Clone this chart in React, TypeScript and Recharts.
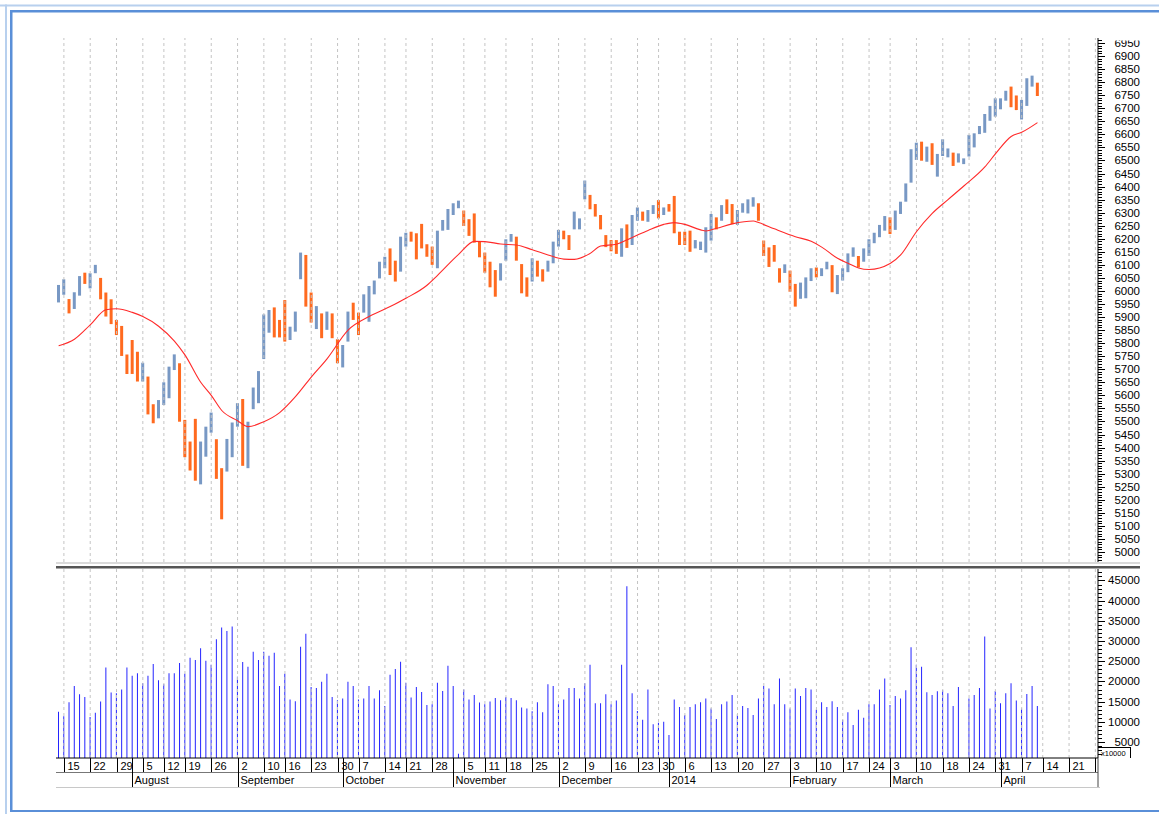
import React from 'react';
import { ComposedChart, Bar, Line, XAxis, YAxis, Cell, ReferenceLine } from 'recharts';

// Trading days shown on the axis (the last eleven are empty future slots)
const monthDays: [string, number[]][] = [
  ['2013-07', [12, 15, 16, 17, 18, 19, 22, 23, 24, 25, 26, 29, 30, 31]],
  ['2013-08', [1, 2, 5, 6, 7, 8, 12, 13, 14, 16, 19, 20, 21, 22, 23, 26, 27, 28, 29, 30]],
  ['2013-09', [2, 3, 4, 5, 6, 10, 11, 12, 13, 16, 17, 18, 19, 20, 23, 24, 25, 26, 27, 30]],
  ['2013-10', [1, 3, 4, 7, 8, 9, 10, 11, 14, 15, 17, 18, 21, 22, 23, 24, 25, 28, 29, 30, 31]],
  ['2013-11', [1, 3, 5, 6, 7, 8, 11, 12, 13, 14, 18, 19, 20, 21, 22, 25, 26, 27, 28, 29]],
  ['2013-12', [2, 3, 4, 5, 6, 9, 10, 11, 12, 13, 16, 17, 18, 19, 20, 23, 24, 26, 27, 30, 31]],
  ['2014-01', [1, 2, 3, 6, 7, 8, 9, 10, 13, 14, 15, 16, 17, 20, 21, 22, 23, 24, 27, 28, 29, 30, 31]],
  ['2014-02', [3, 4, 5, 6, 7, 10, 11, 12, 13, 14, 17, 18, 19, 20, 21, 24, 25, 26, 28]],
  ['2014-03', [3, 4, 5, 6, 7, 10, 11, 12, 13, 14, 18, 19, 20, 21, 22, 24, 25, 26, 27, 28, 31]],
  ['2014-04', [1, 2, 3, 4, 7, 9, 10, 11, 14, 15, 16, 17, 18, 21, 22, 23, 24, 25, 28]],
];

const monthLabels: Record<string, string> = {
  '2013-08': 'August',
  '2013-09': 'September',
  '2013-10': 'October',
  '2013-11': 'November',
  '2013-12': 'December',
  '2014-01': '2014',
  '2014-02': 'February',
  '2014-03': 'March',
  '2014-04': 'April',
};

const highs = [
  6023, 6045, 5969, 5995, 6057, 6070, 6068, 6100, 6050, 5994,
  5968, 5889, 5866, 5757, 5812, 5767, 5725, 5672, 5566, 5582,
  5650, 5710, 5757, 5723, 5506, 5423, 5510, 5423, 5480, 5534,
  5432, 5321, 5433, 5496, 5570, 5586, 5499, 5630, 5693, 5910,
  5927, 5937, 5889, 5965, 5863, 5921, 6147, 6138, 5994, 5942,
  5914, 5921, 5914, 5815, 5793, 5921, 5955, 5917, 5987, 6019,
  6040, 6112, 6131, 6163, 6116, 6208, 6223, 6227, 6221, 6257,
  6179, 6170, 6231, 6272, 6314, 6336, 6346, 6308, 6275, 6297,
  6189, 6147, 6112, 6080, 6106, 6198, 6218, 6208, 6103, 6052,
  6125, 6116, 6083, 6116, 6189, 6234, 6231, 6214, 6304, 6278,
  6423, 6368, 6333, 6291, 6214, 6195, 6195, 6240, 6255, 6291,
  6320, 6304, 6310, 6329, 6348, 6320, 6333, 6364, 6227, 6227,
  6231, 6195, 6189, 6244, 6295, 6282, 6329, 6351, 6333, 6310,
  6336, 6351, 6359, 6336, 6193, 6167, 6176, 6087, 6102, 6078,
  6027, 6032, 6052, 6087, 6090, 6087, 6112, 6099, 6061, 6087,
  6144, 6167, 6134, 6163, 6198, 6223, 6253, 6287, 6282, 6308,
  6342, 6412, 6543, 6568, 6572, 6553, 6566, 6525, 6581, 6546,
  6530, 6527, 6508, 6598, 6604, 6632, 6678, 6709, 6738, 6738,
  6767, 6783, 6749, 6732, 6815, 6825, 6798,
];

const lows = [
  5956, 5985, 5914, 5931, 5982, 6027, 6010, 6068, 5968, 5902,
  5873, 5831, 5751, 5682, 5682, 5653, 5653, 5527, 5493, 5512,
  5563, 5589, 5697, 5499, 5363, 5312, 5273, 5259, 5365, 5457,
  5280, 5125, 5308, 5363, 5480, 5330, 5321, 5547, 5570, 5739,
  5840, 5822, 5822, 5806, 5812, 5844, 6045, 5940, 5879, 5854,
  5819, 5851, 5819, 5723, 5707, 5806, 5889, 5831, 5917, 5882,
  5987, 6048, 6087, 6061, 6036, 6074, 6170, 6189, 6121, 6163,
  6131, 6100, 6087, 6231, 6234, 6291, 6317, 6249, 6211, 6185,
  6129, 6070, 6014, 5978, 6040, 6116, 6189, 6116, 5991, 5978,
  6036, 6055, 6036, 6074, 6106, 6170, 6198, 6157, 6236, 6236,
  6351, 6313, 6285, 6236, 6168, 6152, 6142, 6131, 6165, 6176,
  6269, 6269, 6265, 6295, 6278, 6291, 6304, 6221, 6176, 6176,
  6150, 6163, 6157, 6147, 6193, 6236, 6269, 6295, 6256, 6253,
  6300, 6297, 6323, 6269, 6134, 6092, 6112, 6032, 6069, 5997,
  5940, 5970, 5972, 6038, 6052, 6057, 6083, 5995, 5988, 6040,
  6072, 6131, 6090, 6112, 6134, 6183, 6206, 6231, 6218, 6234,
  6295, 6342, 6415, 6502, 6499, 6495, 6483, 6438, 6517, 6512,
  6479, 6492, 6486, 6515, 6550, 6601, 6606, 6652, 6668, 6696,
  6729, 6704, 6693, 6657, 6709, 6783, 6747,
];

// U = rising bar (blue), D = falling bar (orange)
const barDirection = [
  'UUDUUDUUDD', 'DDDDDDUDDU', 'UUUDDDDUUU', 'DDUUUDUUUU', 'UDDDUUUDDU',
  'DUDDUUDDUU', 'UUUDDUUDDD', 'DDUUUUUDDD', 'DDDDUUUDDD', 'UDDUUUDDUU',
  'UDDDDDDUDU', 'UDUUDUDDDD', 'DUUUUDUDDU', 'UUUDDDDDUD', 'DUUUDUUDUU',
  'UUDUUUUUDU', 'UUUUDUDUUU', 'DUUUUUUUUU', 'UDDUUUD',
].join('').split('');

// volume in units of 10000 shares; null where no volume is drawn
const volumes: (number | null)[] = [
  12520, 11360, 14840, 18900, 16830, 16160, 11190, 12270, 15010, 23470,
  17250, 17080, 17990, 23470, 21400, 22060, 19580, 21400, 24300, 20320,
  19330, 22060, 22060, 24550, 21890, 25870, 25290, 28190, 25120, 24130,
  30430, 33330, 32500, 33580, 21150, 24790, 23630, 27360, 25290, 27360,
  26370, 27110, 18900, 21890, 15500, 15090, 28610, 31840, 18650, 18400,
  19900, 21890, 16160, 15340, 15750, 19900, 18900, 15500, 15750, 18900,
  15750, 17830, 13930, 21650, 23060, 24880, 19660, 16000, 18650, 17410,
  14180, 14350, 19660, 17660, 23880, 18900, 2100, 17990, 15500, 16660,
  14760, 14350, 15010, 15920, 15340, 16160, 15920, 15340, 13520, 13270,
  12600, 14840, 12350, 19330, 18900, 14350, 15500, 18400, 18400, 15750,
  19580, 24130, 14600, 14600, 16830, 14350, 15260, 24130, 43590, 17080,
  12690, 10530, 17990, 9370, 9780, 10030, 6720, 15500, 13680, 11690,
  13680, 14350, 14840, 15750, 13270, 10700, 14350, 15010, 16660, 11860,
  13930, 13430, 11690, 15750, 18900, 18240, 14350, 20730, 14350, 13270,
  18240, 16410, 18400, 17990, 13020, 14840, 13680, 15090, 13680, 10530,
  12350, 9200, 13020, 11030, 14350, 14350, 17990, 20730, 14180, 16410,
  15750, 17830, 28440, 24130, 23630, 17330, 16660, 17580, 17830, 17080,
  13930, 18650, null, 15750, 16660, 18400, 31100, 13270, 17660, 14600,
  17080, 19580, 15260, 13270, 16910, 18900, 13930,
];

// moving average read at these bar positions
const maAt = [
  0, 3, 6, 9, 11, 14, 16, 19, 22, 24, 27, 29, 31, 34, 36, 39, 42, 45, 48, 51,
  55, 59, 63, 66, 70, 72, 76, 79, 81, 84, 87, 90, 93, 96, 98, 101, 103, 106, 109, 112,
  115, 117, 119, 122, 123, 125, 128, 132, 133, 136, 140, 143, 145, 148, 150, 152, 154, 158, 160, 163,
  166, 169, 172, 176, 178, 181, 183, 186,
];
const maValues = [
  5790, 5815, 5870, 5928, 5932, 5918, 5902, 5865, 5808, 5755, 5650, 5600, 5542, 5503, 5480, 5499, 5534, 5595, 5670, 5740,
  5850, 5902, 5940, 5972, 6022, 6060, 6140, 6190, 6189, 6180, 6176, 6158, 6138, 6122, 6121, 6144, 6172, 6179, 6205, 6232,
  6255, 6262, 6255, 6234, 6230, 6240, 6257, 6268, 6262, 6238, 6208, 6190, 6168, 6125, 6106, 6088, 6082, 6105, 6138, 6227,
  6297, 6350, 6402, 6475, 6525, 6592, 6608, 6645,
];

const priceTicks = Array.from({ length: 200 }, (_, k) => 4970 + k * 10);
const volumeTicks = Array.from({ length: 46 }, (_, k) => 2000 + k * 1000);

const tradingDays: string[] = monthDays.flatMap(([m, ds]) =>
  ds.map((d) => `${m}-${String(d).padStart(2, '0')}`)
);

const mondayOf = (s: string) => {
  const [y, m, d] = s.split('-').map(Number);
  const t = Date.UTC(y, m - 1, d) / 86400000;
  const dow = (new Date(Date.UTC(y, m - 1, d)).getUTCDay() + 6) % 7;
  return t - dow;
};

const weekStarts = tradingDays.filter((d, i) => i > 0 && mondayOf(d) !== mondayOf(tradingDays[i - 1]));
const monthStarts = tradingDays.filter((d, i) => i > 0 && d.slice(0, 7) !== tradingDays[i - 1].slice(0, 7));
const weekSet = new Set(weekStarts);
const monthSet = new Set(monthStarts);

const maMap = new Map(maAt.map((idx, k) => [idx, maValues[k]]));

const rows = tradingDays.map((d, i) => ({
  d,
  range: i < highs.length ? [lows[i], highs[i]] : undefined,
  vol: volumes[i] ?? undefined,
  ma: maMap.get(i),
}));

const FONT = '"Liberation Sans", Arial, sans-serif';
const AXIS_X = 1098;
const LEFT = 56;
const UP = '#7898c4';
const DOWN = '#ff6a1f';

const PriceTick = (props: any) => {
  const v = props.payload.value;
  const y = Math.round(props.y) + 0.5;
  const major = v % 50 === 0;
  return (
    <g>
      <line x1={AXIS_X} x2={major ? AXIS_X + 7 : AXIS_X + 4} y1={y} y2={y} stroke="#000" />
      {major && v >= 5000 && (
        <g clipPath="url(#priceLabelClip)">
          <text x={1140} y={props.y} dy={4} textAnchor="end" fontSize={11.5} fontFamily={FONT} fill="#000">
            {v}
          </text>
        </g>
      )}
    </g>
  );
};

const VolTick = (props: any) => {
  const v = props.payload.value;
  const y = Math.round(props.y) + 0.5;
  const major = v % 5000 === 0;
  return (
    <g>
      <line x1={AXIS_X} x2={major ? AXIS_X + 7 : AXIS_X + 4} y1={y} y2={y} stroke="#000" />
      {major && (
        <text x={1140} y={props.y} dy={4} textAnchor="end" fontSize={11.5} fontFamily={FONT} fill="#000">
          {v}
        </text>
      )}
    </g>
  );
};

const DateTick = (props: any) => {
  const d: string = props.payload.value;
  const x = Math.round(props.payload.coordinate) + 0.5;
  const first = d === tradingDays[0];
  return (
    <g>
      {first && (
        <g>
          <line x1={LEFT} x2={AXIS_X} y1={772.5} y2={772.5} stroke="#777" />
          <line x1={LEFT} x2={AXIS_X + 2} y1={787.5} y2={787.5} stroke="#c8c8c8" />
          <line x1={AXIS_X} x2={AXIS_X} y1={758} y2={787} stroke="#444" />
        </g>
      )}
      {weekSet.has(d) && (
        <g>
          <line x1={x} x2={x} y1={758} y2={772} stroke="#000" />
          {x < 1085 && (
            <text x={x + 3} y={770} fontSize={11} fontFamily={FONT} fill="#000">
              {Number(d.slice(8))}
            </text>
          )}
        </g>
      )}
      {monthSet.has(d) && monthLabels[d.slice(0, 7)] && (
        <g>
          <line x1={x} x2={x} y1={758} y2={787} stroke="#000" />
          <text x={x + 2} y={784} fontSize={11} fontFamily={FONT} fill="#000">
            {monthLabels[d.slice(0, 7)]}
          </text>
        </g>
      )}
    </g>
  );
};

const gridLines = weekStarts.map((d) => (
  <ReferenceLine key={d} x={d} stroke="#c4c4c4" strokeDasharray="3 3" />
));

const App = () => {
  return (
    <div style={{ position: 'relative', width: 1159, height: 814, background: '#fff', overflow: 'hidden' }}>
      <style>{'body{margin:0}'}</style>

      <div style={{ position: 'absolute', left: 0, top: 0 }}>
        <ComposedChart width={1159} height={600} data={rows} margin={{ top: 38, right: 11, bottom: 38, left: LEFT }}>
          <defs>
            <clipPath id="priceLabelClip">
              <rect x={1099} y={40.5} width={60} height={530} />
            </clipPath>
          </defs>
          <XAxis dataKey="d" hide />
          <YAxis
            orientation="right"
            width={50}
            domain={[4961.5, 6969.2]}
            allowDataOverflow
            ticks={priceTicks}
            interval={0}
            tickLine={false}
            axisLine={{ stroke: '#000' }}
            tick={(p: any) => <PriceTick {...p} />}
          />
          {gridLines}
          <Bar dataKey="range" barSize={3} isAnimationActive={false}>
            {rows.map((r, i) => (
              <Cell key={r.d} fill={barDirection[i] === 'U' ? UP : DOWN} />
            ))}
          </Bar>
          <Line
            dataKey="ma"
            type="monotone"
            stroke="#ff2a2a"
            strokeWidth={1.1}
            dot={false}
            connectNulls
            isAnimationActive={false}
          />
        </ComposedChart>
      </div>

      <div style={{ position: 'absolute', left: 0, top: 0 }}>
        <ComposedChart width={1159} height={814} data={rows} margin={{ top: 569, right: 11, bottom: 26, left: LEFT }}>
          <XAxis
            dataKey="d"
            height={30}
            interval={0}
            tickLine={false}
            axisLine={{ stroke: '#000' }}
            tick={(p: any) => <DateTick {...p} />}
          />
          <YAxis
            orientation="right"
            width={50}
            domain={[1040, 47848]}
            allowDataOverflow
            ticks={volumeTicks}
            interval={0}
            tickLine={false}
            axisLine={{ stroke: '#000' }}
            tick={(p: any) => <VolTick {...p} />}
          />
          {gridLines}
          <Bar dataKey="vol" barSize={1} fill="#2424ff" isAnimationActive={false} />
        </ComposedChart>
      </div>

      <svg width={1159} height={814} style={{ position: 'absolute', left: 0, top: 0, pointerEvents: 'none' }}>
        {/* window frame */}
        <rect x={0} y={4.5} width={1159} height={2} fill="#b8d0ee" />
        <rect x={5} y={4.5} width={2} height={810} fill="#b8d0ee" />
        <rect x={10} y={10} width={1149} height={2.5} fill="#5a8fd8" />
        <rect x={10} y={10} width={2.5} height={802} fill="#5a8fd8" />
        <rect x={10} y={810} width={1149} height={2} fill="#5a8fd8" />
        {/* pane separator */}
        <rect x={LEFT} y={562} width={1140 - LEFT} height={2} fill="#dadada" />
        <rect x={LEFT} y={566} width={1140 - LEFT} height={2.5} fill="#555" />
        {/* volume unit box */}
        <line x1={AXIS_X} x2={1130.5} y1={747.5} y2={747.5} stroke="#000" />
        <line x1={1130.5} x2={1130.5} y1={747} y2={758} stroke="#000" />
        <text x={1101} y={755.5} fontSize={7.5} fontFamily={FONT} fill="#000">
          x10000
        </text>
      </svg>
    </div>
  );
};

export default App;
